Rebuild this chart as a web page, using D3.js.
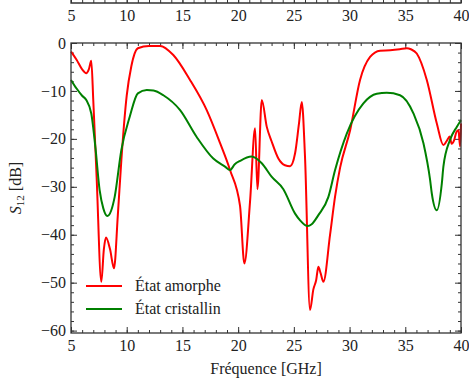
<!DOCTYPE html>
<html>
<head>
<meta charset="utf-8">
<script src="https://cdn.jsdelivr.net/npm/d3@7"></script>
<style>
body{margin:0;background:#fff;}
text{font-family:"Liberation Serif","Times New Roman",serif;fill:#222;}
</style>
</head>
<body>
<div id="box-div"></div>
<script>
// values
const freqRed = [5.0,5.5,6.0,6.37,6.6,6.82,7.0,7.3,7.72,7.95,8.14,8.5,8.86,9.2,9.52,10.0,10.41,11.0,12.0,13.0,14.18,15.68,17.18,18.38,19.27,20.17,20.56,21.07,21.52,21.73,22.12,22.57,23.0,23.61,24.2,24.66,25.11,25.45,25.71,26.0,26.45,26.75,27.0,27.2,27.4,27.65,28.25,28.7,29.15,30.05,30.94,31.84,32.74,33.64,34.5,35.13,35.5,36.03,36.93,37.83,38.42,38.7,39.0,39.15,39.38,39.6,39.77,39.92,40.0];
const s12Red = [-1.8,-3.5,-5.5,-6.3,-5.5,-3.7,-12,-28,-49.8,-43,-40.6,-43,-47,-36,-24.4,-11,-4.9,-1.1,-0.6,-0.6,-2.5,-7.7,-14,-20.9,-26.5,-34,-46,-33,-17.8,-30.5,-11.9,-17.5,-20.5,-24.1,-25.5,-25.7,-23,-17,-12.3,-23.7,-55.7,-51.4,-49.5,-46.7,-48,-49.8,-40,-32,-26,-18.2,-7.7,-2.9,-1.6,-1.5,-1.3,-1.1,-1.3,-2.2,-7.7,-16.8,-21.3,-20.5,-19.5,-21,-20.3,-18.5,-18.2,-21.6,-16.8];

const freqGreen = [5.0,5.5,6.0,6.37,6.82,7.2,7.57,7.9,8.26,8.6,8.92,9.52,10.27,11.0,11.8,12.4,13.29,14.79,16.28,17.77,18.82,19.27,19.7,20.17,21.2,22.12,23.0,24.06,25.11,25.56,26.25,26.6,27.2,28.1,28.7,29.75,31.24,32.44,33.34,34.53,35.73,36.63,37.23,37.38,37.83,38.28,38.42,39.0,39.62,40.0];
const s12Green = [-7.7,-9.5,-11,-11.9,-14.7,-22,-30.7,-34.5,-36.1,-35,-32.1,-22.3,-15.4,-10.5,-9.8,-9.9,-10.9,-14,-19.6,-24.1,-25.8,-26.5,-25.3,-24.6,-23.7,-25.1,-27.9,-30.5,-35.6,-37,-38.2,-37.8,-35.9,-32.1,-26.5,-18.9,-12.6,-10.6,-10.4,-10.9,-14.7,-20.9,-28.6,-31.4,-34.9,-29.3,-25.8,-20.3,-17.5,-16.1];

const xTicks = [5,10,15,20,25,30,35,40];
const yTicks = [0,-10,-20,-30,-40,-50,-60];
const seriesNames = ["État amorphe","État cristallin"];
const seriesColors = ["#ff0000","#008000"];

const dms = {
    width: 469,
    height: 379,
    margin: {top: 43, right: 8, bottom: 46, left: 71}
};
dms.contentWidth = dms.width - dms.margin.left - dms.margin.right;
dms.contentHeight = dms.height - dms.margin.top - dms.margin.bottom;
const fontSize = 16;

const box = d3.select('#box-div').append('svg')
    .attr('width', dms.width)
    .attr('height', dms.height);

const xScale = d3.scaleLinear().domain([5,40]).range([0,dms.contentWidth]);
const yScale = d3.scaleLinear().domain([0,-60.5]).range([0,dms.contentHeight]);

const fmt = d3.format("d");

// top panel (cut off, only its bottom axis shows)
const topPanel = box.append('g')
    .attr('transform', `translate(${dms.margin.left},3)`);
topPanel.append('path')
    .attr('d', `M0,-10V0H${dms.contentWidth}V-10`)
    .attr('fill','none').attr('stroke','#333').attr('stroke-width',1.3);
topPanel.append('g')
    .call(d3.axisBottom(xScale).tickValues(d3.range(5,41,1)).tickSize(-3).tickFormat(''))
    .call(g => g.select('.domain').remove());
topPanel.append('g')
    .call(d3.axisBottom(xScale).tickValues(xTicks).tickSize(-6).tickPadding(7).tickFormat(fmt))
    .call(g => g.select('.domain').remove())
    .selectAll('text').attr('font-size',fontSize).attr('font-family','Liberation Serif');
topPanel.selectAll('line').attr('stroke','#333');

const content = box.append('g')
    .attr('transform', `translate(${dms.margin.left},${dms.margin.top})`);

// minor ticks
const minorX = d3.range(5,41,1);
const minorY = d3.range(0,-61,-2);
content.append('g').attr('transform',`translate(0,${dms.contentHeight})`)
    .call(d3.axisBottom(xScale).tickValues(minorX).tickSize(-3).tickFormat(''));
content.append('g')
    .call(d3.axisTop(xScale).tickValues(minorX).tickSize(-3).tickFormat(''));
content.append('g')
    .call(d3.axisLeft(yScale).tickValues(minorY).tickSize(-3).tickFormat(''));
content.append('g').attr('transform',`translate(${dms.contentWidth},0)`)
    .call(d3.axisRight(yScale).tickValues(minorY).tickSize(-3).tickFormat(''));

// major ticks
content.append('g').attr('class','xaxis').attr('transform',`translate(0,${dms.contentHeight})`)
    .call(d3.axisBottom(xScale).tickValues(xTicks).tickSize(-6).tickPadding(7).tickFormat(fmt));
content.append('g')
    .call(d3.axisTop(xScale).tickValues(xTicks).tickSize(-6).tickFormat(''));
content.append('g').attr('class','yaxis')
    .call(d3.axisLeft(yScale).tickValues(yTicks).tickSize(-6).tickPadding(5).tickFormat(d3.format("d")));
content.append('g').attr('transform',`translate(${dms.contentWidth},0)`)
    .call(d3.axisRight(yScale).tickValues(yTicks).tickSize(-6).tickFormat(''));

content.selectAll('.domain').remove();
content.selectAll('.tick line').attr('stroke','#333');
content.selectAll('.tick text').attr('font-size',fontSize).attr('font-family','Liberation Serif').attr('fill','#222');

// curves
const lineGen = d3.line()
    .x(d => xScale(d[0]))
    .y(d => yScale(d[1]))
    .curve(d3.curveMonotoneX);

const series = [
    d3.zip(freqRed, s12Red),
    d3.zip(freqGreen, s12Green)
];
content.append('g').selectAll('path')
    .data(series)
    .join('path')
    .attr('d', lineGen)
    .attr('fill','none')
    .attr('stroke', (d,i) => seriesColors[i])
    .attr('stroke-width', 2)
    .attr('stroke-linejoin','round');

// frame
content.append('rect')
    .attr('width', dms.contentWidth)
    .attr('height', dms.contentHeight)
    .attr('fill','none').attr('stroke','#333').attr('stroke-width',1.3);

// legend
const legend = content.append('g').attr('transform','translate(15,243)');
seriesNames.forEach((name,i) => {
    const row = legend.append('g').attr('transform',`translate(0,${i*23})`);
    row.append('line').attr('x1',0).attr('x2',36).attr('y1',0).attr('y2',0)
        .attr('stroke',seriesColors[i]).attr('stroke-width',2);
    row.append('text').attr('x',49).attr('y',5).attr('font-size',fontSize).text(name);
});

// axis labels
box.append('text')
    .attr('x', dms.margin.left + dms.contentWidth/2)
    .attr('y', 374)
    .attr('text-anchor','middle')
    .attr('font-size',fontSize)
    .text('Fréquence [GHz]');

const yLabel = box.append('text')
    .attr('transform', `translate(21,${dms.margin.top + dms.contentHeight/2}) rotate(-90)`)
    .attr('text-anchor','middle')
    .attr('font-size',fontSize);
yLabel.append('tspan').attr('font-style','italic').text('S');
yLabel.append('tspan').attr('font-size',11).attr('dy',3).text('12');
yLabel.append('tspan').attr('dy',-3).text(' [dB]');
</script>
</body>
</html>
